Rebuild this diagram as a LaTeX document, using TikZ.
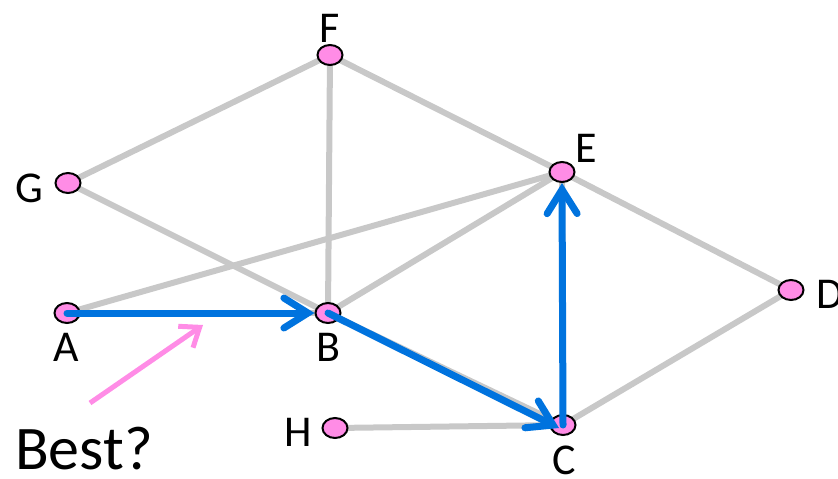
\documentclass[tikz,border=0pt]{standalone}
\usepackage{fontspec}
\setmainfont{Carlito}
\usetikzlibrary{shapes.geometric,arrows.meta}
\definecolor{nodepink}{RGB}{255,140,230}
\definecolor{edgegray}{RGB}{200,200,200}
\definecolor{pathblue}{RGB}{0,115,222}
\definecolor{hintpink}{RGB}{255,140,230}
\tikzset{
  vtx/.style={ellipse,draw=black,line width=2pt,fill=nodepink,minimum width=25pt,minimum height=20pt,inner sep=0pt},
  lbl/.style={inner sep=0pt,font=\fontsize{44}{44}\selectfont},
  edge/.style={draw=edgegray,line width=6pt},
  pathedge/.style={draw=pathblue,line width=7pt,line cap=round,-{Straight Barb[length=24pt,width=30pt,line cap=round]}},
}
\begin{document}
\begin{tikzpicture}[x=1pt,y=-1pt]
\useasboundingbox (0,0) rectangle (838,479);
% vertex positions
\coordinate (pF) at (330,55);
\coordinate (pG) at (68,183);
\coordinate (pE) at (562,172);
\coordinate (pA) at (67,313);
\coordinate (pB) at (328,313);
\coordinate (pD) at (791,290);
\coordinate (pH) at (335,428);
\coordinate (pC) at (563,425);
% gray edges
\draw[edge] (pF) -- (pG);
\draw[edge] (pF) -- (pB);
\draw[edge] (pF) -- (pE);
\draw[edge] (pG) -- (pB);
\draw[edge] (pA) -- (pE);
\draw[edge] (pB) -- (pE);
\draw[edge] (pE) -- (pD);
\draw[edge] (pD) -- (pC);
\draw[edge] (pH) -- (pC);
\draw[edge] (pB) -- (pC);
\draw[edge] (pE) -- (pC);
\draw[edge] (pA) -- (pB);
% vertices
\node[vtx] (F) at (pF) {};
\node[vtx] (G) at (pG) {};
\node[vtx] (E) at (pE) {};
\node[vtx] (A) at (pA) {};
\node[vtx] (B) at (pB) {};
\node[vtx] (D) at (pD) {};
\node[vtx] (H) at (pH) {};
\node[vtx] (C) at (pC) {};
% labels
\node[lbl] (lF) at (330,28) {F};
\node[lbl] (lG) at (29,188) {G};
\node[lbl] (lE) at (586,148) {E};
\node[lbl] (lD) at (830,294) {D};
\node[lbl] (lA) at (66,347) {A};
\node[lbl] (lB) at (328,347) {B};
\node[lbl] (lH) at (298,432) {H};
\node[lbl] (lC) at (564,460) {C};
% blue path
\draw[pathedge] (A.center) -- (B.west);
\draw[pathedge] (B.center) -- ([shift={(-4pt,-3pt)}]C.center);
\draw[pathedge] (C.center) -- (E.south);
% hint
\node[inner sep=0pt,font=\fontsize{62}{62}\selectfont] (best) at (84,449) {Best?};
\coordinate (hintTip) at (203,325);
\coordinate (hintTail) at (90,403);
\draw[draw=hintpink,line width=5pt,-{Straight Barb[length=17pt,width=26pt]}] (hintTail) -- (hintTip);
\end{tikzpicture}
\end{document}
